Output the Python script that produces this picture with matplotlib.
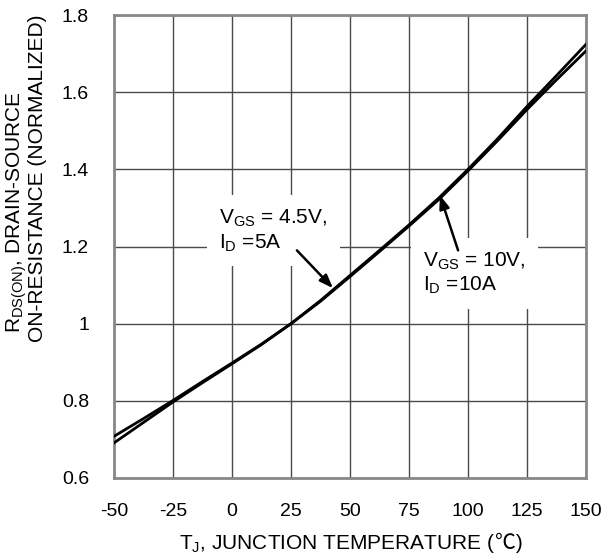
import matplotlib.pyplot as plt

plt.rcParams['font.family'] = ['Liberation Sans', 'Noto Sans CJK SC', 'DejaVu Sans']
plt.rcParams['mathtext.fontset'] = 'custom'
plt.rcParams['mathtext.rm'] = 'Liberation Sans'
plt.rcParams['mathtext.it'] = 'Liberation Sans'
plt.rcParams['axes.unicode_minus'] = False

# Junction temperature (C)
temp = [-50, -37.5, -25, -12.5, 0, 12.5, 25, 37.5, 50, 62.5, 75, 87.5, 100, 112.5, 125, 137.5, 150]
# normalized Rds(on), two test conditions
rds_45v = [0.708, 0.754, 0.801, 0.850, 0.898, 0.947, 1.0, 1.060, 1.125, 1.190, 1.256,
           1.325, 1.400, 1.479, 1.563, 1.643, 1.724]
rds_10v = [0.691, 0.744, 0.797, 0.847, 0.896, 0.946, 1.0, 1.058, 1.122, 1.187, 1.253,
           1.321, 1.396, 1.474, 1.555, 1.632, 1.707]

xticks = [-50, -25, 0, 25, 50, 75, 100, 125, 150]
yticks = [0.6, 0.8, 1.0, 1.2, 1.4, 1.6, 1.8]
ytick_labels = ['0.6', '0.8', '1', '1.2', '1.4', '1.6', '1.8']

W, H = 605, 554
fig = plt.figure(figsize=(W/100, H/100), dpi=100)
ax = fig.add_axes([114/W, 1-478/H, 472/W, 463/H])

ax.plot(temp, rds_45v, color='black', lw=2.0, zorder=5)
ax.plot(temp, rds_10v, color='black', lw=2.0, zorder=5)

ax.set_xlim(-50, 150)
ax.set_ylim(0.6, 1.8)
ax.set_xticks(xticks)
ax.set_yticks(yticks)
ax.set_yticklabels(ytick_labels)
ax.tick_params(length=0, labelsize=14, pad=18)
ax.grid(True, color='#4a4a4a', lw=1.0, zorder=1)
ax.set_axisbelow(True)
for s in ax.spines.values():
    s.set_color('#888888')
    s.set_linewidth(2)

fs = 15
# x label: mathtext part + plain part (for the degree sign glyph)
t1 = fig.text(0, 5/H, 'T$_{\\mathrm{J}}$, JUNCTION TEMPERATURE (', fontsize=fs, va='baseline')
t2 = fig.text(0, 5/H, '\u2103)', fontsize=fs, va='baseline')
fig.canvas.draw()
r = fig.canvas.get_renderer()
w1 = t1.get_window_extent(r).width
w2 = t2.get_window_extent(r).width
x0 = 351 - (w1 + w2)/2
t1.set_x(x0/W)
t2.set_x((x0 + w1)/W)

fig.text(17/W, 1-212/H, 'R$_{\\mathrm{DS(ON)}}$, DRAIN-SOURCE', rotation=90,
         ha='center', va='center', fontsize=fs)
fig.text(38/W, 1-178/H, 'ON-RESISTANCE (NORMALIZED)', rotation=90,
         ha='center', va='center', fontsize=fs)

box = dict(fc='white', ec='none', pad=9)
ax.text(-5.5, 1.30, 'V$_{\\mathrm{GS}}$ = 4.5V,\nI$_{\\mathrm{D}}$ =5A', ha='left', va='top',
        fontsize=fs, bbox=box, zorder=3, linespacing=1.2)
ax.text(81, 1.19, 'V$_{\\mathrm{GS}}$ = 10V,\nI$_{\\mathrm{D}}$ =10A', ha='left', va='top',
        fontsize=fs, bbox=box, zorder=3, linespacing=1.2)

arrow = dict(arrowstyle='-|>,head_length=0.8,head_width=0.3', color='black', lw=1.8,
             shrinkA=0, shrinkB=0)
ax.annotate('', xy=(42.8, 1.092), xytext=(27.5, 1.19), arrowprops=arrow, zorder=6)
ax.annotate('', xy=(88.1, 1.333), xytext=(95.8, 1.19), arrowprops=arrow, zorder=6)

fig.savefig('out.png', dpi=100)
